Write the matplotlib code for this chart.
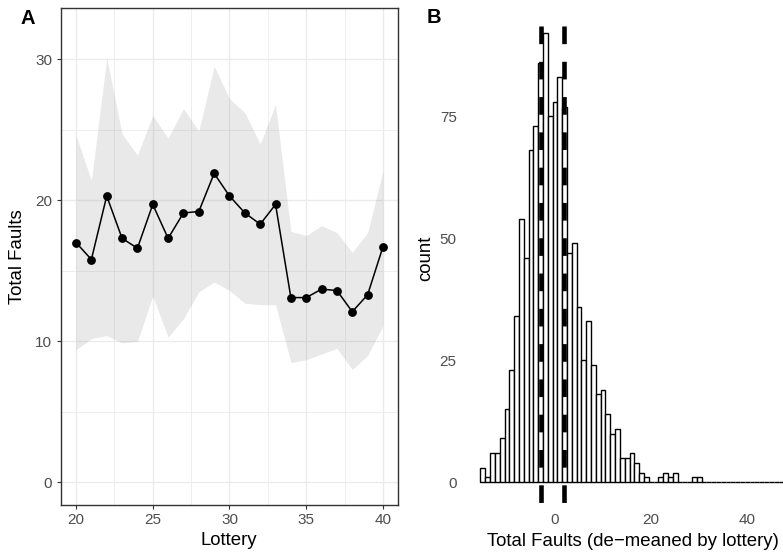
import numpy as np
import matplotlib
matplotlib.use("Agg")
import matplotlib.pyplot as plt

plt.rcParams["font.family"] = ["Liberation Sans", "DejaVu Sans"]

# ---- panel A: mean faults per lottery with band ----
lottery = [20, 21, 22, 23, 24, 25, 26, 27, 28, 29, 30,
           31, 32, 33, 34, 35, 36, 37, 38, 39, 40]
faults_mean = [17.0, 15.8, 20.3, 17.3, 16.6, 19.7, 17.3, 19.1, 19.2, 21.9, 20.3,
               19.1, 18.3, 19.7, 13.1, 13.1, 13.7, 13.6, 12.1, 13.3, 16.7]
band_upper = [24.6, 21.4, 30.1, 24.7, 23.2, 26.0, 24.4, 26.5, 24.9, 29.5, 27.2,
              26.2, 24.0, 26.8, 17.8, 17.5, 18.2, 17.7, 16.3, 17.7, 22.1]
band_lower = [9.4, 10.2, 10.4, 9.9, 10.0, 13.2, 10.3, 11.6, 13.5, 14.2, 13.6,
              12.7, 12.6, 12.6, 8.5, 8.7, 9.1, 9.5, 8.0, 9.0, 11.1]

# ---- panel B: histogram of de-meaned faults (binwidth 1) ----
bin_start = -15
hist_counts = [3, 1, 6, 6, 9, 15, 23, 34, 54, 46, 68, 73, 86, 92, 75, 78, 83, 77,
               47, 49, 36, 25, 33, 24, 18, 19, 14, 10, 11, 5, 5, 6, 4, 2, 1, 0,
               0, 1, 2, 1, 2, 0, 0, 0, 1, 1] + [0] * 18
vlines_b = [-2.87, 1.77]

fig = plt.figure(figsize=(7.83, 5.52), dpi=100)

tick_col = "#4D4D4D"

# =========================
# A
# =========================
axA = fig.add_axes([0.0775, 0.0851, 0.4312, 0.8998])
axA.fill_between(lottery, band_lower, band_upper, color="grey", alpha=0.17,
                 linewidth=0, zorder=2)
axA.plot(lottery, faults_mean, color="black", linewidth=1.1, marker="o",
         markersize=5.3, zorder=3)
axA.set_xlim(19, 41)
axA.set_ylim(-1.6, 33.6)
axA.set_xticks([20, 25, 30, 35, 40])
axA.set_yticks([0, 10, 20, 30])
axA.set_xticks([22.5, 27.5, 32.5, 37.5], minor=True)
axA.set_yticks([5, 15, 25], minor=True)
axA.grid(True, which="major", color="#EBEBEB", linewidth=1.0, zorder=0)
axA.grid(True, which="minor", color="#EBEBEB", linewidth=0.6, zorder=0)
axA.set_axisbelow(True)
axA.tick_params(which="major", length=2.7, width=0.8, color="#333333",
                labelsize=11, labelcolor=tick_col, pad=3.3)
axA.tick_params(which="minor", length=0)
for s in axA.spines.values():
    s.set_color("#333333")
    s.set_linewidth(1.0)
axA.set_xlabel("Lottery", fontsize=13.4, va="center")
axA.set_ylabel("Total Faults", fontsize=13.4, va="center")
axA.xaxis.set_label_coords(0.4985, -0.0705)
axA.yaxis.set_label_coords(-0.1265, 0.5)

# =========================
# B
# =========================
axB = fig.add_axes([0.5875, 0.0851, 0.4125, 0.8678])
centers = np.arange(bin_start, bin_start + len(hist_counts))
axB.bar(centers, hist_counts, width=1.0, color="white", edgecolor="black",
        linewidth=1.0, zorder=2)
for v in vlines_b:
    axB.plot([v, v], [93.5, -4.65], color="black", linewidth=3.3,
             linestyle=(0, (3.85, 3.85)), zorder=3, solid_capstyle="butt",
             dash_capstyle="butt")
axB.set_xlim(-19.76, 47.43)
axB.set_ylim(-4.65, 93.5)
axB.set_xticks([0, 20, 40])
axB.set_yticks([0, 25, 50, 75])
axB.tick_params(length=0, labelsize=11, labelcolor=tick_col)
axB.tick_params(axis="y", pad=2.4)
axB.tick_params(axis="x", pad=5.8)
for s in axB.spines.values():
    s.set_visible(False)
axB.set_xlabel("Total Faults (de\u2212meaned by lottery)", fontsize=13.4,
               va="center")
axB.set_ylabel("count", fontsize=13.4, va="center")
axB.xaxis.set_label_coords(0.5356, -0.0766)
axB.yaxis.set_label_coords(-0.107, 0.5157)

fig.text(28 / 783, 1 - 18.3 / 552, "A", fontsize=14.5, fontweight="bold",
         ha="center", va="center")
fig.text(434 / 783, 1 - 17.5 / 552, "B", fontsize=14.5, fontweight="bold",
         ha="center", va="center")

fig.savefig("out.png", dpi=100)
